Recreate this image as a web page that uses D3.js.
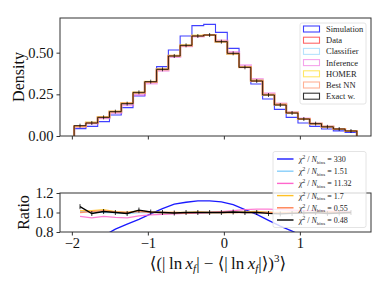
<!DOCTYPE html>
<html>
<head>
<meta charset="utf-8">
<script src="https://cdn.jsdelivr.net/npm/d3@7"></script>
<style>
  body { margin: 0; background: #fff; }
  svg { font-family: "Liberation Serif", "DejaVu Serif", serif; }
</style>
</head>
<body>
<script>
// binning of the observable
var binLo = -1.97, binHi = 1.75, nBins = 24;

// histogram densities, one value per bin
var simHist = [0.044, 0.058, 0.086, 0.126, 0.170, 0.240, 0.322, 0.416, 0.516, 0.600, 0.662, 0.670,
               0.622, 0.526, 0.412, 0.312, 0.222, 0.160, 0.112, 0.078, 0.058, 0.042, 0.031, 0.022];
var dataHist = [0.058, 0.079, 0.111, 0.146, 0.196, 0.256, 0.324, 0.400, 0.482, 0.544, 0.600, 0.606,
                0.566, 0.494, 0.412, 0.330, 0.248, 0.189, 0.139, 0.102, 0.074, 0.056, 0.042, 0.030];
var classHist = [0.059, 0.080, 0.111, 0.146, 0.194, 0.256, 0.324, 0.400, 0.480, 0.542, 0.600, 0.606,
                 0.566, 0.494, 0.414, 0.333, 0.248, 0.187, 0.139, 0.102, 0.073, 0.056, 0.042, 0.030];
var infHist = [0.056, 0.075, 0.107, 0.139, 0.185, 0.247, 0.316, 0.392, 0.475, 0.539, 0.597, 0.606,
               0.572, 0.504, 0.424, 0.341, 0.256, 0.194, 0.142, 0.104, 0.075, 0.057, 0.042, 0.030];
var homerHist = [0.059, 0.081, 0.114, 0.147, 0.196, 0.261, 0.326, 0.400, 0.482, 0.544, 0.603, 0.606,
                 0.566, 0.494, 0.414, 0.333, 0.248, 0.189, 0.139, 0.102, 0.074, 0.056, 0.042, 0.030];
var nnHist = [0.058, 0.080, 0.113, 0.147, 0.196, 0.259, 0.324, 0.400, 0.482, 0.541, 0.600, 0.606,
              0.566, 0.494, 0.412, 0.330, 0.248, 0.188, 0.139, 0.102, 0.074, 0.056, 0.042, 0.030];
var exactHist = [0.062, 0.078, 0.112, 0.146, 0.194, 0.262, 0.326, 0.400, 0.480, 0.544, 0.600, 0.606,
                 0.566, 0.496, 0.412, 0.330, 0.246, 0.186, 0.138, 0.102, 0.074, 0.055, 0.042, 0.030];

// ratios to data, one value per bin centre
var simRatio = [0.62, 0.68, 0.76, 0.83, 0.88, 0.93, 0.985, 1.04, 1.085, 1.105, 1.12, 1.12,
                1.11, 1.08, 1.03, 0.98, 0.92, 0.86, 0.81, 0.75, 0.70, 0.65, 0.60, 0.55];
var classRatio = [1.01, 1.01, 1.00, 1.00, 0.99, 1.00, 1.00, 1.00, 0.995, 0.995, 1.00, 1.00,
                  1.00, 1.00, 1.005, 1.01, 1.00, 0.99, 1.00, 1.00, 0.99, 1.00, 1.00, 1.00];
var infRatio = [0.96, 0.945, 0.96, 0.95, 0.945, 0.965, 0.975, 0.98, 0.985, 0.99, 0.995, 1.00,
                1.01, 1.02, 1.03, 1.035, 1.035, 1.03, 1.025, 1.02, 1.02, 1.015, 1.01, 1.01];
var homerRatio = [1.02, 1.02, 1.03, 1.01, 1.00, 1.02, 1.005, 1.00, 1.00, 1.00, 1.005, 1.00,
                  1.00, 1.00, 1.005, 1.01, 1.00, 1.00, 1.00, 1.00, 1.00, 1.005, 1.00, 1.00];
var nnRatio = [1.00, 1.01, 1.02, 1.005, 1.00, 1.01, 1.00, 1.00, 1.00, 0.995, 1.00, 1.00,
               1.00, 1.00, 1.00, 1.00, 1.00, 0.995, 1.00, 1.00, 0.995, 1.00, 1.00, 1.00];
var exactRatio = [1.06, 0.99, 1.01, 1.00, 0.99, 1.025, 1.005, 1.00, 0.995, 1.00, 1.00, 1.00,
                  1.00, 1.005, 1.00, 1.00, 0.99, 0.985, 0.99, 0.995, 1.00, 0.99, 0.995, 1.00];

var histLabels = ['Simulation', 'Data', 'Classifier', 'Inference', 'HOMER', 'Best NN', 'Exact w.'];
var chiValues = ['330', '1.51', '11.32', '1.7', '0.55', '0.48'];
var xTicks = [-2, -1, 0, 1];
var yTicksTop = [0, 0.25, 0.5];
var yTicksRatio = [0.8, 1.0, 1.2];

// layout
var W = 389, H = 292;
var left = 60, right = 371;
var topT = 18, topB = 136;
var botT = 193, botB = 232;
var frameColor = '#333';
var tickLen = 3.5;

var histStyle = [
  {color: '#0000ff', width: 1.1, op: 0.75},
  {color: '#ff0000', width: 1.4, op: 0.6},
  {color: '#87cefa', width: 2, op: 0.6},
  {color: '#ee66dd', width: 2.2, op: 0.55},
  {color: '#ffd700', width: 2, op: 0.55},
  {color: '#ff7f50', width: 2, op: 0.5},
  {color: '#000000', width: 1, op: 0.8}
];
var ratioStyle = [
  {color: '#1a1aff', width: 1.3},
  {color: '#87cefa', width: 1.3},
  {color: '#ff66cc', width: 1.3},
  {color: '#ffc125', width: 1.3},
  {color: '#ff7f50', width: 1.3},
  {color: '#000000', width: 1.3}
];

var hists = [simHist, dataHist, classHist, infHist, homerHist, nnHist, exactHist];
var ratios = [simRatio, classRatio, infRatio, homerRatio, nnRatio, exactRatio];

var binW = (binHi - binLo) / nBins;
var edges = d3.range(nBins + 1).map(function(i) { return binLo + i * binW; });
var centers = d3.range(nBins).map(function(i) { return binLo + (i + 0.5) * binW; });
var pad = 0.05 * (binHi - binLo);

var x = d3.scaleLinear().domain([binLo - pad, binHi + pad]).range([left, right]);
var yTop = d3.scaleLinear().domain([0, 0.708]).range([topB, topT]);
var yRat = d3.scaleLinear().domain([0.8, 1.2]).range([botB, botT]);

var svg = d3.select('body').append('svg')
    .attr('width', W)
    .attr('height', H);

svg.append('defs').append('clipPath').attr('id', 'clipRatio')
  .append('rect')
    .attr('x', left).attr('y', botT)
    .attr('width', right - left).attr('height', botB - botT);

// step outline of a histogram
function stepPath(vals) {
  var pts = [[x(edges[0]), yTop(0)]];
  vals.forEach(function(v, i) {
    pts.push([x(edges[i]), yTop(v)]);
    pts.push([x(edges[i + 1]), yTop(v)]);
  });
  pts.push([x(edges[nBins]), yTop(0)]);
  return d3.line()(pts);
}

var gTop = svg.append('g');
hists.forEach(function(h, k) {
  gTop.append('path')
    .attr('d', stepPath(h))
    .attr('fill', 'none')
    .attr('stroke', histStyle[k].color)
    .attr('stroke-width', histStyle[k].width)
    .attr('stroke-opacity', histStyle[k].op);
});
// small error bars on exact weights
gTop.selectAll('.err')
  .data(exactHist)
  .enter()
  .append('line')
    .attr('x1', function(d, i) { return x(centers[i]); })
    .attr('x2', function(d, i) { return x(centers[i]); })
    .attr('y1', function(d) { return yTop(d) - 2; })
    .attr('y2', function(d) { return yTop(d) + 2; })
    .attr('stroke', '#000')
    .attr('stroke-width', 0.7);

// ratio lines
var gBot = svg.append('g').attr('clip-path', 'url(#clipRatio)');
var rline = d3.line()
  .x(function(d, i) { return x(centers[i]); })
  .y(function(d) { return yRat(d); });
ratios.forEach(function(r, k) {
  gBot.append('path')
    .attr('d', rline(r))
    .attr('fill', 'none')
    .attr('stroke', ratioStyle[k].color)
    .attr('stroke-width', ratioStyle[k].width)
    .attr('stroke-opacity', k == 0 || k == 5 ? 1 : 0.85);
});
gBot.selectAll('.rerr')
  .data(exactRatio)
  .enter()
  .append('line')
    .attr('x1', function(d, i) { return x(centers[i]); })
    .attr('x2', function(d, i) { return x(centers[i]); })
    .attr('y1', function(d) { return yRat(d) - 2.5; })
    .attr('y2', function(d) { return yRat(d) + 2.5; })
    .attr('stroke', '#000')
    .attr('stroke-width', 0.8);

// frames and axes
function frame(t, b) {
  svg.append('rect')
    .attr('x', left).attr('y', t)
    .attr('width', right - left).attr('height', b - t)
    .attr('fill', 'none')
    .attr('stroke', frameColor)
    .attr('stroke-width', 1);
}
frame(topT, topB);
frame(botT, botB);

function styleAxis(g, fs) {
  g.select('.domain').remove();
  g.selectAll('.tick line').attr('stroke', frameColor);
  g.selectAll('.tick text').attr('fill', '#111').style('font-size', fs + 'px')
    .style('font-family', '"Liberation Serif", serif');
}

var axTopX = svg.append('g').attr('transform', 'translate(0,' + topB + ')')
  .call(d3.axisBottom(x).tickValues(xTicks).tickSize(tickLen).tickFormat(''));
styleAxis(axTopX, 14);
var axTopY = svg.append('g').attr('transform', 'translate(' + left + ',0)')
  .call(d3.axisLeft(yTop).tickValues(yTicksTop).tickSize(tickLen).tickPadding(3)
    .tickFormat(d3.format('.2f')));
styleAxis(axTopY, 14.5);

var minus = function(d) { return d < 0 ? '\u2212' + Math.abs(d) : String(d); };
var axBotX = svg.append('g').attr('transform', 'translate(0,' + botB + ')')
  .call(d3.axisBottom(x).tickValues(xTicks).tickSize(tickLen).tickPadding(2).tickFormat(minus));
styleAxis(axBotX, 14.5);
var axBotY = svg.append('g').attr('transform', 'translate(' + left + ',0)')
  .call(d3.axisLeft(yRat).tickValues(yTicksRatio).tickSize(tickLen).tickPadding(3)
    .tickFormat(d3.format('.1f')));
styleAxis(axBotY, 14.5);

// axis labels
svg.append('text')
  .attr('transform', 'translate(24,' + (topT + topB) / 2 + ') rotate(-90)')
  .attr('text-anchor', 'middle')
  .style('font-size', '16px')
  .attr('fill', '#111')
  .text('Density');
svg.append('text')
  .attr('transform', 'translate(29,' + (botT + botB) / 2 + ') rotate(-90)')
  .attr('text-anchor', 'middle')
  .style('font-size', '16px')
  .attr('fill', '#111')
  .text('Ratio');

var xl = svg.append('text')
  .attr('x', 218)
  .attr('y', 269)
  .attr('text-anchor', 'middle')
  .style('font-size', '17px')
  .attr('fill', '#111');
xl.append('tspan').text('\u27e8(|\u2009ln\u2009');
xl.append('tspan').style('font-style', 'italic').text('x');
xl.append('tspan').attr('dy', 3).style('font-size', '11px').style('font-style', 'italic').text('f');
xl.append('tspan').attr('dy', -3).text('| \u2212 \u27e8|\u2009ln\u2009');
xl.append('tspan').style('font-style', 'italic').text('x');
xl.append('tspan').attr('dy', 3).style('font-size', '11px').style('font-style', 'italic').text('f');
xl.append('tspan').attr('dy', -3).text('|\u27e9)');
xl.append('tspan').attr('dy', -7).style('font-size', '11px').text('3');
xl.append('tspan').attr('dy', 7).text('\u27e9');

// top legend
var lg = svg.append('g');
lg.append('rect')
  .attr('x', 300).attr('y', 23).attr('width', 66).attr('height', 81)
  .attr('rx', 2)
  .attr('fill', '#fff').attr('fill-opacity', 0.8)
  .attr('stroke', '#ddd').attr('stroke-width', 0.8);
histLabels.forEach(function(lab, k) {
  var yy = 29 + k * 11.2;
  lg.append('rect')
    .attr('x', 303.5).attr('y', yy - 3).attr('width', 16).attr('height', 6)
    .attr('fill', 'none')
    .attr('stroke', histStyle[k].color)
    .attr('stroke-width', 1.1)
    .attr('stroke-opacity', Math.max(histStyle[k].op, 0.6));
  lg.append('text')
    .attr('x', 326).attr('y', yy + 3)
    .style('font-size', '8.5px')
    .attr('fill', '#222')
    .text(lab);
});

// ratio legend
var lr = svg.append('g');
lr.append('rect')
  .attr('x', 273).attr('y', 151.5).attr('width', 93).attr('height', 76)
  .attr('rx', 2)
  .attr('fill', '#fff').attr('fill-opacity', 0.8)
  .attr('stroke', '#ddd').attr('stroke-width', 0.8);
chiValues.forEach(function(v, k) {
  var yy = 159 + k * 12.2;
  lr.append('line')
    .attr('x1', 277).attr('x2', 293.5).attr('y1', yy).attr('y2', yy)
    .attr('stroke', ratioStyle[k].color)
    .attr('stroke-width', 1.4);
  var t = lr.append('text')
    .attr('x', 299).attr('y', yy + 3)
    .style('font-size', '8px')
    .attr('fill', '#222');
  t.append('tspan').style('font-style', 'italic').text('\u03c7');
  t.append('tspan').attr('dy', -3).style('font-size', '5.5px').text('2');
  t.append('tspan').attr('dy', 3).text(' / ');
  t.append('tspan').style('font-style', 'italic').text('N');
  t.append('tspan').attr('dy', 1.5).style('font-size', '5px').text('bins');
  t.append('tspan').attr('dy', -1.5).text(' = ' + v);
});
</script>
</body>
</html>
